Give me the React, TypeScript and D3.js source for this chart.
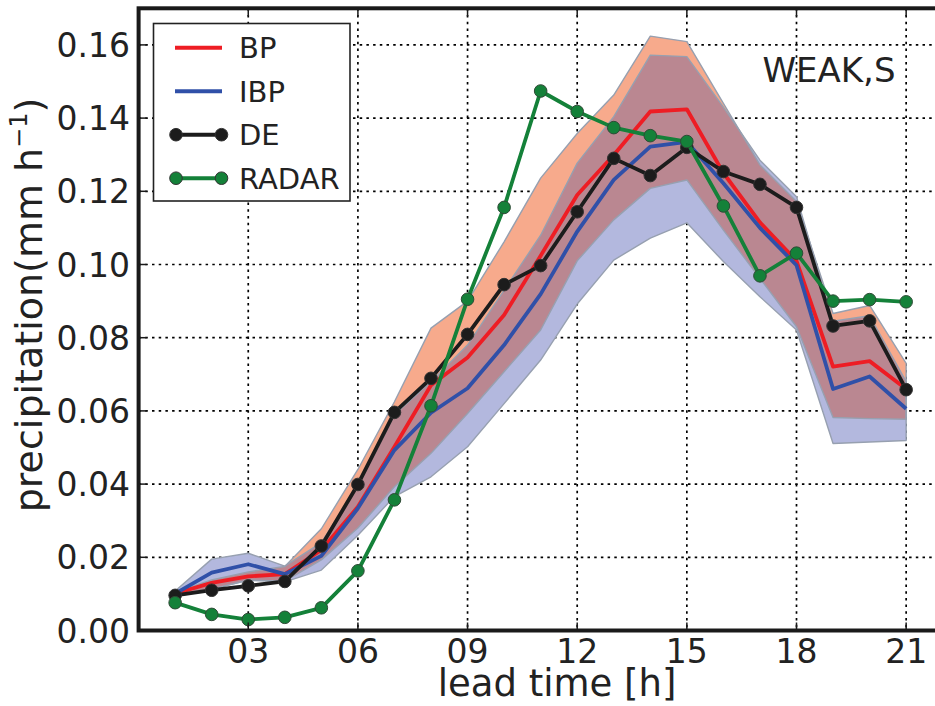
import React from "react";
import * as d3 from "d3";

const hours = [1, 2, 3, 4, 5, 6, 7, 8, 9, 10, 11, 12, 13, 14, 15, 16, 17, 18, 19, 20, 21];

const bpMean = [0.0101, 0.0130, 0.0148, 0.0154, 0.0220, 0.0338, 0.0502, 0.0670, 0.0746, 0.0862, 0.1024, 0.1190, 0.1299, 0.1418, 0.1424, 0.1250, 0.1115, 0.1010, 0.0721, 0.0736, 0.0660];
const ibpMean = [0.0101, 0.0158, 0.0181, 0.0154, 0.0204, 0.0334, 0.0493, 0.0595, 0.0662, 0.0780, 0.0919, 0.1090, 0.1231, 0.1322, 0.1335, 0.1222, 0.1100, 0.0998, 0.0660, 0.0694, 0.0606];
const deValues = [0.0096, 0.0110, 0.0122, 0.0134, 0.0231, 0.0399, 0.0596, 0.0689, 0.0809, 0.0945, 0.0997, 0.1144, 0.1290, 0.1243, 0.1320, 0.1254, 0.1219, 0.1156, 0.0832, 0.0846, 0.0658];
const radarValues = [0.0076, 0.0044, 0.0030, 0.0036, 0.0062, 0.0163, 0.0357, 0.0614, 0.0905, 0.1156, 0.1474, 0.1418, 0.1374, 0.1352, 0.1336, 0.1160, 0.0969, 0.1031, 0.0900, 0.0904, 0.0898];

const bpLow = [0.0095, 0.0113, 0.0138, 0.0135, 0.0193, 0.0280, 0.0393, 0.0484, 0.0593, 0.0707, 0.0821, 0.1010, 0.1122, 0.1208, 0.1231, 0.1094, 0.0962, 0.0830, 0.0582, 0.0579, 0.0577];
const bpHigh = [0.0105, 0.0138, 0.0160, 0.0175, 0.0278, 0.0440, 0.0625, 0.0826, 0.0900, 0.1062, 0.1236, 0.1358, 0.1463, 0.1624, 0.1609, 0.1440, 0.1272, 0.1172, 0.0866, 0.0888, 0.0730];
const ibpLow = [0.0092, 0.0113, 0.0137, 0.0133, 0.0165, 0.0260, 0.0366, 0.0420, 0.0502, 0.0620, 0.0739, 0.0892, 0.1012, 0.1072, 0.1114, 0.1008, 0.0912, 0.0821, 0.0511, 0.0515, 0.0519];
const ibpHigh = [0.0108, 0.0195, 0.0211, 0.0176, 0.0240, 0.0395, 0.0590, 0.0680, 0.0780, 0.0930, 0.1080, 0.1277, 0.1404, 0.1572, 0.1568, 0.1430, 0.1285, 0.1185, 0.0845, 0.0860, 0.0680];

const xTicks = [3, 6, 9, 12, 15, 18, 21];
const xTickLabels = ["03", "06", "09", "12", "15", "18", "21"];
const yTicks = [0, 0.02, 0.04, 0.06, 0.08, 0.1, 0.12, 0.14, 0.16];
const yTickLabels = ["0.00", "0.02", "0.04", "0.06", "0.08", "0.10", "0.12", "0.14", "0.16"];

const legendNames = ["BP", "IBP", "DE", "RADAR"];
const legendColors = ["#ee1d24", "#3050a8", "#1c1c1c", "#148139"];
const legendMarkers = [false, false, true, true];

const FONT = "'DejaVu Sans', sans-serif";

export default function App() {
  const W = 935, H = 706;
  const x = d3.scaleLinear().domain([0, 22]).range([138.6, 942.7]);
  const y = d3.scaleLinear().domain([0, 0.17]).range([630.5, 8.3]);
  const [x0, x1] = x.range();
  const [yb, yt] = y.range();

  const area = (lo: number[], hi: number[]) =>
    d3.area<number>().x((_, i) => x(hours[i])).y0((_, i) => y(lo[i])).y1((_, i) => y(hi[i]))(hours) || "";
  const line = (vals: number[]) =>
    d3.line<number>().x((_, i) => x(hours[i])).y((_, i) => y(vals[i]))(hours) || "";

  const bpArea = area(bpLow, bpHigh);
  const ibpArea = area(ibpLow, ibpHigh);

  const legX = 153.5, legY = 23.5, legW = 196.5, legH = 177.5;
  const rowY = (i: number) => 47.7 + i * 43.5;

  return (
    <svg width={W} height={H} style={{ position: "absolute", left: 0, top: 0, background: "#fff" }} fontFamily={FONT}>
      <defs>
        <clipPath id="plotClip">
          <rect x={x0} y={yt} width={x1 - x0} height={yb - yt} />
        </clipPath>
        <clipPath id="bpClip">
          <path d={bpArea} />
        </clipPath>
      </defs>
      <rect x={0} y={0} width={W} height={H} fill="#fff" />
      <g clipPath="url(#plotClip)">
        {xTicks.map((t) => (
          <line key={"gx" + t} x1={x(t)} x2={x(t)} y1={yt} y2={yb} stroke="#000" strokeWidth={1.7} strokeDasharray="2.5,4.2" />
        ))}
        {yTicks.slice(1).map((t) => (
          <line key={"gy" + t} x1={x0} x2={x1} y1={y(t)} y2={y(t)} stroke="#000" strokeWidth={1.7} strokeDasharray="2.5,4.2" />
        ))}
        <path d={bpArea} fill="#f7aa8c" />
        <path d={ibpArea} fill="#b3b8de" />
        <path d={ibpArea} fill="#ba8791" clipPath="url(#bpClip)" />
        <path d={bpArea} fill="none" stroke="#97a0b0" strokeWidth={1.4} strokeLinejoin="round" />
        <path d={ibpArea} fill="none" stroke="#97a0b0" strokeWidth={1.4} strokeLinejoin="round" />
        <path d={line(bpMean)} fill="none" stroke={legendColors[0]} strokeWidth={3.8} strokeLinejoin="round" />
        <path d={line(ibpMean)} fill="none" stroke={legendColors[1]} strokeWidth={3.8} strokeLinejoin="round" />
        <path d={line(deValues)} fill="none" stroke={legendColors[2]} strokeWidth={3.8} strokeLinejoin="round" />
        {deValues.map((v, i) => (
          <circle key={"de" + i} cx={x(hours[i])} cy={y(v)} r={6.3} fill="#1c1c1c" stroke="#333" strokeWidth={1} />
        ))}
        <path d={line(radarValues)} fill="none" stroke={legendColors[3]} strokeWidth={3.8} strokeLinejoin="round" />
        {radarValues.map((v, i) => (
          <circle key={"ra" + i} cx={x(hours[i])} cy={y(v)} r={6.3} fill="#148139" stroke="#2f4a36" strokeWidth={1} />
        ))}
      </g>
      {xTicks.map((t) => (
        <g key={"tx" + t}>
          <line x1={x(t)} x2={x(t)} y1={yb} y2={yb - 8} stroke="#1a1a1a" strokeWidth={1.5} />
          <line x1={x(t)} x2={x(t)} y1={yt} y2={yt + 8} stroke="#1a1a1a" strokeWidth={1.5} />
        </g>
      ))}
      {yTicks.map((t) => (
        <line key={"ty" + t} x1={x0} x2={x0 + 8} y1={y(t)} y2={y(t)} stroke="#1a1a1a" strokeWidth={1.5} />
      ))}
      <rect x={x0} y={yt} width={x1 - x0} height={yb - yt} fill="none" stroke="#1a1a1a" strokeWidth={4} />
      {xTicks.map((t, i) => (
        <text key={"lx" + t} x={x(t)} y={663} textAnchor="middle" fontSize={33} fill="#222">
          {xTickLabels[i]}
        </text>
      ))}
      {yTicks.map((t, i) => (
        <text key={"ly" + t} x={130} y={y(t) + 12} textAnchor="end" fontSize={33} fill="#222">
          {yTickLabels[i]}
        </text>
      ))}
      <text x={557} y={696} textAnchor="middle" fontSize={37} fill="#222">lead time [h]</text>
      <text transform="translate(42,305) rotate(-90)" textAnchor="middle" fontSize={38} fill="#222">
        precipitation(mm h<tspan fontSize={24} dy={-15}>−1</tspan><tspan dy={15}>)</tspan>
      </text>
      <text x={829} y={82} textAnchor="middle" fontSize={34} fill="#222">WEAK,S</text>
      <rect x={legX} y={legY} width={legW} height={legH} fill="#fff" stroke="#222" strokeWidth={1.6} />
      {legendNames.map((name, i) => (
        <g key={"lg" + name}>
          <line x1={175} x2={222} y1={rowY(i)} y2={rowY(i)} stroke={legendColors[i]} strokeWidth={4} />
          {legendMarkers[i] && (
            <>
              <circle cx={176} cy={rowY(i)} r={6.3} fill={legendColors[i]} stroke="#333" strokeWidth={1} />
              <circle cx={221.5} cy={rowY(i)} r={6.3} fill={legendColors[i]} stroke="#333" strokeWidth={1} />
            </>
          )}
          <text x={239} y={rowY(i) + 10.5} fontSize={29} fill="#222">{name}</text>
        </g>
      ))}
    </svg>
  );
}
